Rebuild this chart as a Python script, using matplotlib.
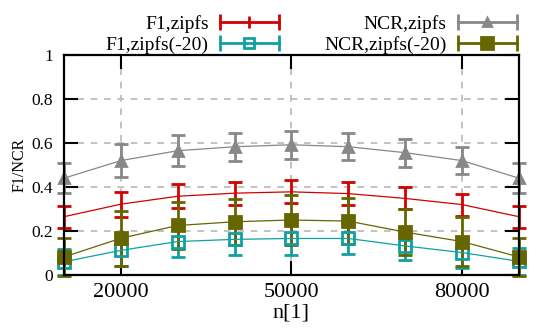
import matplotlib
matplotlib.use("Agg")
import matplotlib.pyplot as plt
from matplotlib.legend_handler import HandlerBase
from matplotlib.lines import Line2D
from matplotlib.ticker import FuncFormatter

plt.rcParams['font.family'] = ['Liberation Serif', 'DejaVu Serif']

# data
n1 = [10000, 20000, 30000, 40000, 50000, 60000, 70000, 80000, 90000]

f1_zipfs = [0.265, 0.322, 0.358, 0.372, 0.378, 0.370, 0.348, 0.320, 0.265]
f1_zipfs_err = [0.050, 0.057, 0.055, 0.052, 0.052, 0.052, 0.050, 0.050, 0.050]

f1_zipfs20 = [0.060, 0.112, 0.152, 0.162, 0.166, 0.166, 0.132, 0.102, 0.062]
f1_zipfs20_err = [0.060, 0.070, 0.070, 0.070, 0.075, 0.070, 0.065, 0.072, 0.060]

ncr_zipfs = [0.440, 0.520, 0.565, 0.583, 0.592, 0.583, 0.556, 0.520, 0.440]
ncr_zipfs_err = [0.068, 0.075, 0.070, 0.063, 0.064, 0.062, 0.063, 0.063, 0.067]

ncr_zipfs20 = [0.082, 0.167, 0.225, 0.242, 0.250, 0.245, 0.195, 0.152, 0.082]
ncr_zipfs20_err = [0.088, 0.125, 0.105, 0.105, 0.115, 0.105, 0.105, 0.110, 0.086]

labels = ["F1,zipfs", "F1,zipfs(-20)", "NCR,zipfs", "NCR,zipfs(-20)"]
colors = ["#d20000", "#10a0a0", "#888888", "#666600"]

xticks = [20000, 50000, 80000]
yticks = [0, 0.2, 0.4, 0.6, 0.8, 1]


class CapHandler(HandlerBase):
    # gnuplot style key: horizontal bar with end caps and the point in the middle
    def create_artists(self, legend, orig, xd, yd, w, h, fontsize, trans):
        y = h / 2 - yd
        x0, x1 = -xd, -xd + w
        c = orig.get_color()
        bar = Line2D([x0, x1], [y, y], color=c, lw=2)
        caps = Line2D([x0, x1], [y, y], ls='none', marker='|', ms=11, mew=2, color=c)
        mid = Line2D([(x0 + x1) / 2], [y], ls='none', marker=orig.get_marker(),
                     ms=orig.get_markersize(), mew=orig.get_markeredgewidth(),
                     mfc=orig.get_markerfacecolor(), mec=c)
        for a in (bar, caps, mid):
            a.set_transform(trans)
        return [bar, caps, mid]


fig = plt.figure(figsize=(5.48, 3.28), dpi=100)
ax = fig.add_axes([0.1168, 0.1616, 0.8302, 0.6707])

series = [
    (f1_zipfs, f1_zipfs_err, 'none', 0, 'none'),
    (f1_zipfs20, f1_zipfs20_err, 's', 8, 'none'),
    (ncr_zipfs, ncr_zipfs_err, '^', 7, colors[2]),
    (ncr_zipfs20, ncr_zipfs20_err, 's', 9, colors[3]),
]

proxies = []
for (y, e, m, ms, mfc), c, lab in zip(series, colors, labels):
    ax.errorbar(n1, y, yerr=e, color=c, lw=0.9, elinewidth=2, capsize=4.8,
                capthick=2, marker=m, ms=ms, mfc=mfc, mec=c, mew=2, clip_on=False)
    pm = '|' if m == 'none' else m
    pms = 8 if m == 'none' else ms - 1
    proxies.append(Line2D([], [], color=c, marker=pm, ms=pms, mew=2,
                          mfc=(c if mfc == 'none' and m == 'none' else mfc), label=lab))

ax.set_xlim(10000, 90000)
ax.set_ylim(0, 1)
ax.set_xticks(xticks)
ax.set_yticks(yticks)
ax.yaxis.set_major_formatter(FuncFormatter(lambda v, p: '%g' % v))
ax.tick_params(axis='both', direction='in', length=10, width=1.5,
               top=True, right=True)
ax.tick_params(axis='x', labelsize=16, pad=6)
ax.tick_params(axis='y', labelsize=12.5, pad=8)
for s in ax.spines.values():
    s.set_linewidth(1.6)

ax.grid(True, color='#b8b8b8', lw=1.2, ls=(0, (4, 4)))
ax.set_axisbelow(True)

ax.set_xlabel("n[1]", fontsize=16, labelpad=1)
ax.set_ylabel("F1/NCR", fontsize=11.5, labelpad=3)

ax.legend(handles=proxies, ncol=2, markerfirst=False, frameon=False,
          handler_map={Line2D: CapHandler()}, fontsize=14,
          loc='lower right', bbox_to_anchor=(1.012, 0.97),
          handlelength=3.0, handletextpad=0.6, columnspacing=2.35,
          labelspacing=0.15, borderaxespad=0.0)

fig.savefig("out.png", dpi=100)
